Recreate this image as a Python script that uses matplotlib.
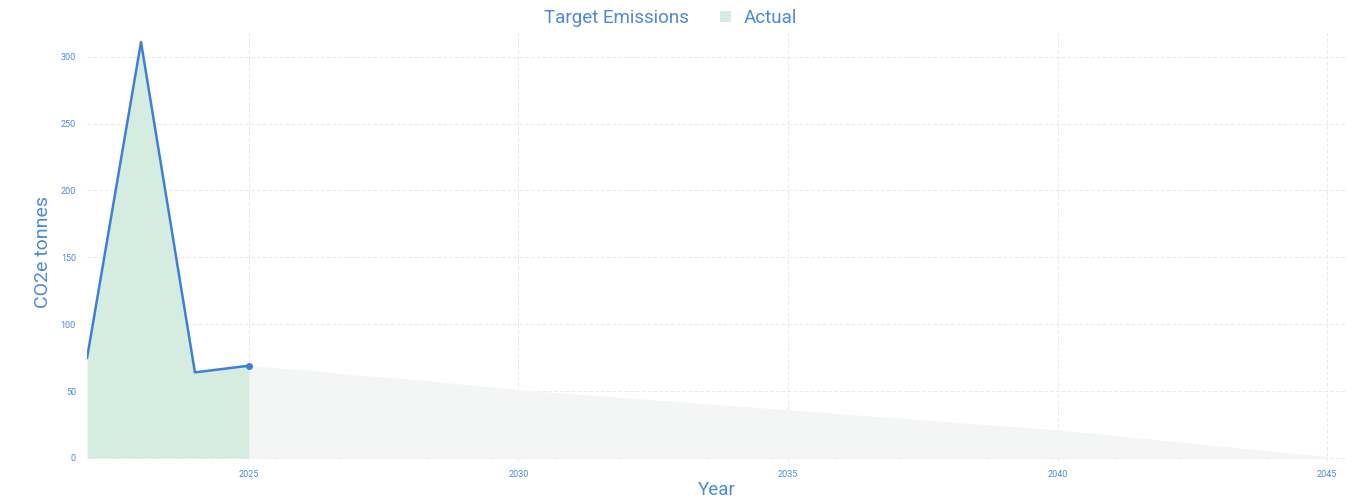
import matplotlib

matplotlib.use("Agg")

import matplotlib.pyplot as plt
from matplotlib.patches import Patch

plt.rcParams["font.family"] = ["Roboto", "DejaVu Sans"]

# actual emissions (CO2e tonnes)
actual_years = [2022, 2023, 2024, 2025]
actual_values = [75, 311, 64, 69]

# target emissions path
target_years = list(range(2025, 2046))
target_values = [69, 66, 62, 59, 55, 51, 48, 45, 42, 39, 36,
                 33, 30, 27, 24, 21, 17, 13, 9, 5, 1]

x_ticks = [2025, 2030, 2035, 2040, 2045]
y_ticks = [0, 50, 100, 150, 200, 250, 300]

BLUE = "#3f7fd6"
TEXT = "#4a8ad8"


def main() -> None:
    fig = plt.figure(figsize=(13.61, 5.0), dpi=100)
    ax = fig.add_axes([0.064, 0.076, 0.925, 0.864])

    ax.fill_between(target_years, target_values, 0, color="#f3f6f5", linewidth=0, zorder=1)
    ax.fill_between(actual_years, actual_values, 0, color="#d5ece0", linewidth=0, zorder=2)
    ax.plot(actual_years, actual_values, color=BLUE, linewidth=1.8, zorder=3)
    ax.plot(actual_years[-1], actual_values[-1], "o", color=BLUE, markersize=4, zorder=4)

    ax.set_xlim(2022, 2045.35)
    ax.set_ylim(-3, 320)
    ax.set_xticks(x_ticks)
    ax.set_yticks(y_ticks)
    ax.tick_params(axis="both", length=0, labelsize=6.5, labelcolor=TEXT)
    ax.tick_params(axis="y", pad=8)
    ax.tick_params(axis="x", pad=6)
    ax.grid(True, color="#ebebeb", linestyle=(0, (4, 2)), linewidth=0.7)
    ax.set_axisbelow(True)
    for spine in ax.spines.values():
        spine.set_visible(False)

    ax.set_xlabel("Year", color=TEXT, fontsize=13.5, labelpad=1)
    ax.set_ylabel("CO2e tonnes", color=TEXT, fontsize=14)
    ax.yaxis.set_label_coords(-0.028, 0.487)

    handles = [
        Patch(facecolor="white", edgecolor="none", label="Target Emissions"),
        Patch(facecolor="#d5ece0", edgecolor="none", label="Actual"),
    ]
    leg = fig.legend(handles=handles, loc="upper center", bbox_to_anchor=(0.484, 1.015),
                     ncol=2, frameon=False, fontsize=13.5, handlelength=0.55,
                     handleheight=0.55, handletextpad=0.7, columnspacing=1.7)
    for text in leg.get_texts():
        text.set_color(TEXT)

    fig.savefig("out.png", dpi=100)
    plt.close(fig)


if __name__ == "__main__":
    main()
